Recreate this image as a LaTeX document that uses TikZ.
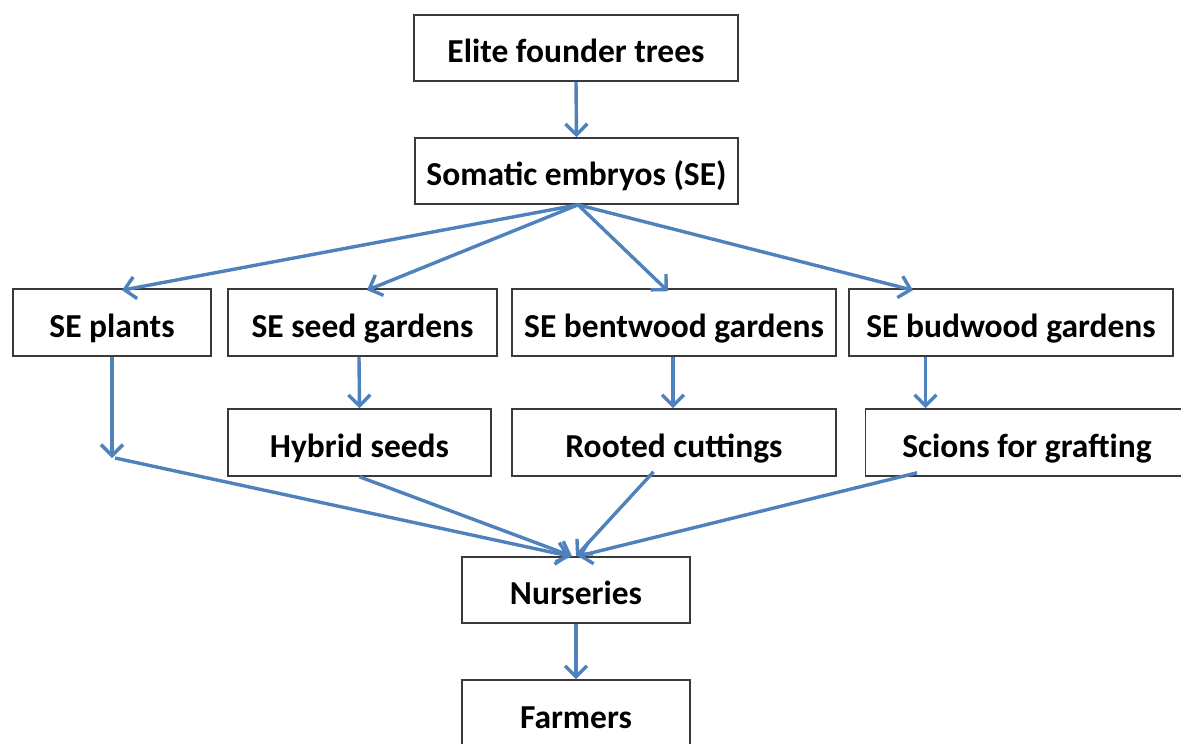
\documentclass[tikz,border=0pt]{standalone}
\usepackage{fontspec}
\setmainfont{Carlito}
\usetikzlibrary{arrows.meta}
\definecolor{arrowblue}{HTML}{4F81BD}
\definecolor{boxline}{HTML}{3A3A3A}
\tikzset{
  box/.style={draw=boxline, line width=1.6pt, fill=white, inner sep=0pt,
    font=\bfseries\fontsize{33.5}{40}\selectfont, text height=29.5pt, text depth=0pt},
  arr/.style={draw=arrowblue, line width=3.4pt,
    -{Straight Barb[length=11pt,width=22pt,line width=3.4pt]}}
}
\begin{document}
\begin{tikzpicture}[x=1pt,y=-1pt]
\useasboundingbox (0,0) rectangle (1181,744);
\clip (0,0) rectangle (1181,744);
% nodes
\node[box, minimum width=324pt, minimum height=66pt] (elite) at (576,48) {Elite founder trees};
\node[box, minimum width=323pt, minimum height=66pt] (somatic) at (576.5,171) {Somatic embryos (SE)};
\node[box, minimum width=198pt, minimum height=67pt] (seplants) at (112,322.5) {SE plants};
\node[box, minimum width=269pt, minimum height=67pt] (seedgard) at (362.5,322.5) {SE seed gardens};
\node[box, minimum width=324pt, minimum height=67pt] (bentwood) at (674,322.5) {SE bentwood gardens};
\node[box, minimum width=324pt, minimum height=67pt] (budwood) at (1011,322.5) {SE budwood gardens};
\node[box, minimum width=263pt, minimum height=67pt] (hybrid) at (359.5,442.5) {Hybrid seeds};
\node[box, minimum width=324pt, minimum height=67pt] (rooted) at (674,442.5) {Rooted cuttings};
\node[box, minimum width=323pt, minimum height=67pt] (scions) at (1027,442.5) {Scions for grafting};
\node[box, minimum width=228pt, minimum height=66pt] (nurseries) at (576,590) {Nurseries};
\node[box, minimum width=228pt, minimum height=68pt] (farmers) at (576,714) {Farmers};
\coordinate (bend) at (112,458);
% connectors
\draw[arr] (elite.south) -- (somatic.north);
\draw[arr] ([xshift=1.5pt]somatic.south) -- ([xshift=10pt,yshift=-2pt]seplants.north);
\draw[arr] ([xshift=1.5pt]somatic.south) -- ([xshift=4.5pt,yshift=-2pt]seedgard.north);
\draw[arr] ([xshift=1.5pt]somatic.south) -- ([xshift=-6pt,yshift=-3pt]bentwood.north);
\draw[arr] ([xshift=1.5pt]somatic.south) -- ([xshift=-98pt,yshift=-2pt]budwood.north);
\draw[arr] (seplants.south) -- (bend);
\draw[arr] ([xshift=-3.5pt]seedgard.south) -- (hybrid.north);
\draw[arr] ([xshift=-1pt]bentwood.south) -- ([xshift=-1pt]rooted.north);
\draw[arr] ([xshift=-85.5pt]budwood.south) -- ([xshift=-101.5pt]scions.north);
\draw[arr] ([xshift=3pt]bend) -- ([xshift=-6pt]nurseries.north);
\draw[arr] (hybrid.south) -- ([xshift=-4pt]nurseries.north);
\draw[arr] ([xshift=-20.5pt,yshift=5pt]rooted.south) -- (nurseries.north);
\draw[arr] ([xshift=-110pt,yshift=4pt]scions.south) -- ([xshift=2pt]nurseries.north);
\draw[arr] (nurseries.south) -- (farmers.north);
\end{tikzpicture}
\end{document}
